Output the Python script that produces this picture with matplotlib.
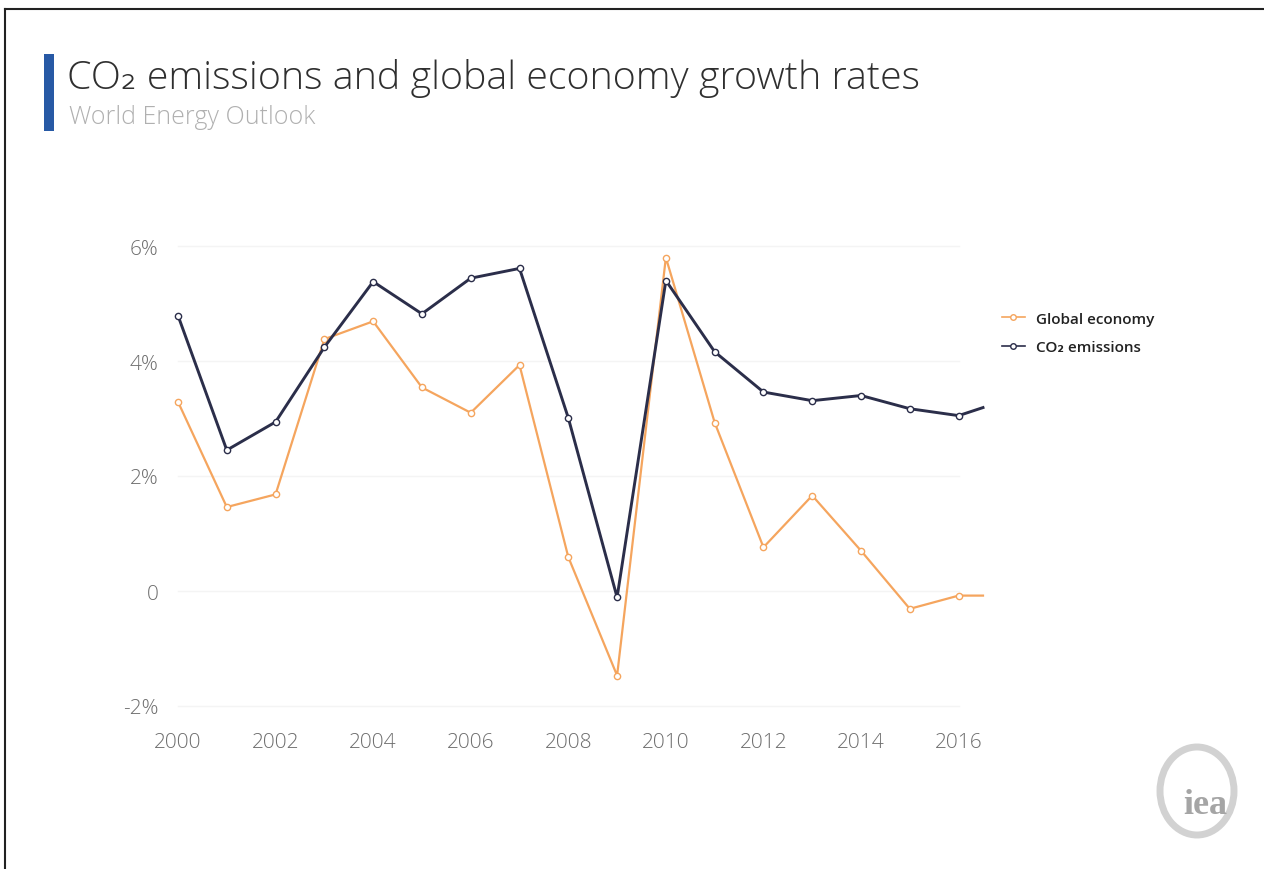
import matplotlib
matplotlib.use("Agg")
import matplotlib.pyplot as plt
from matplotlib.patches import Ellipse, Rectangle
from matplotlib.lines import Line2D

# Annual growth rates (%), with the trailing half-year segment shown at the edge
years = [2000, 2001, 2002, 2003, 2004, 2005, 2006, 2007, 2008,
         2009, 2010, 2011, 2012, 2013, 2014, 2015, 2016, 2016.5]
global_economy = [3.29, 1.46, 1.68, 4.38, 4.69, 3.54, 3.10, 3.93, 0.59,
                  -1.47, 5.80, 2.93, 0.76, 1.66, 0.70, -0.31, -0.08, -0.08]
co2_emissions = [4.79, 2.45, 2.94, 4.24, 5.38, 4.82, 5.44, 5.61, 3.01,
                 -0.11, 5.40, 4.16, 3.46, 3.31, 3.40, 3.17, 3.05, 3.19]

x_ticks = [2000, 2002, 2004, 2006, 2008, 2010, 2012, 2014, 2016]
y_ticks = [-2, 0, 2, 4, 6]
y_tick_labels = ["-2%", "0", "2%", "4%", "6%"]

ORANGE = "#f5a55e"
NAVY = "#2b2e4a"
FONT = ["Open Sans", "DejaVu Sans"]

W, H = 1264, 870
fig = plt.figure(figsize=(W / 100, H / 100), dpi=100)
fig.patch.set_facecolor("white")

def fx(px):
    return px / W

def fy(py):
    return 1 - py / H

# Plot area: 2000 at x=178 px, 2016.5 at x=983 px; 6% at y=247 px, -2% at y=707 px
ax = fig.add_axes([fx(178), fy(707), fx(983) - fx(178), fy(247) - fy(707)])
ax.set_xlim(2000, 2016.5)
ax.set_ylim(-2, 6)
for s in ax.spines.values():
    s.set_visible(False)
ax.set_facecolor("none")

# faint horizontal grid spanning the labelled years
for yv in y_ticks:
    ax.plot([2000, 2016], [yv, yv], color="#f4f4f4", lw=1.0, zorder=0, clip_on=False)

n_marks = len(years) - 1
ax.plot(years, global_economy, color=ORANGE, lw=1.6, marker="o", ms=4.5,
        mfc="white", mec=ORANGE, mew=1.0, markevery=list(range(n_marks)),
        clip_on=False, zorder=3, label="Global economy")
ax.plot(years, co2_emissions, color=NAVY, lw=2.1, marker="o", ms=4.5,
        mfc="white", mec=NAVY, mew=1.0, markevery=list(range(n_marks)),
        clip_on=False, zorder=4, label="CO\u2082 emissions")

ax.set_xticks(x_ticks)
ax.set_xticklabels([str(t) for t in x_ticks])
ax.set_yticks(y_ticks)
ax.set_yticklabels(y_tick_labels)
ax.tick_params(axis="both", length=0, colors="#6e6e6e", labelsize=15)
ax.tick_params(axis="y", pad=14)
ax.tick_params(axis="x", pad=19)
for lab in ax.get_xticklabels() + ax.get_yticklabels():
    lab.set_family(FONT)
    lab.set_fontweight("light")

# legend
handles = [
    Line2D([], [], color=ORANGE, lw=1.2, marker="o", ms=4, mfc="white", mec=ORANGE),
    Line2D([], [], color=NAVY, lw=1.2, marker="o", ms=4, mfc="white", mec=NAVY),
]
leg = fig.legend(handles, ["Global economy", "CO\u2082 emissions"],
                 loc="upper left", bbox_to_anchor=(fx(994), fy(305)),
                 frameon=False, handlelength=1.5, handletextpad=0.75,
                 labelspacing=0.95, borderpad=0,
                 prop={"family": FONT, "weight": "semibold", "size": 11})
for t in leg.get_texts():
    t.set_color("#222222")

# title block
fig.add_artist(Rectangle((fx(44), fy(132)), fx(54) - fx(44), fy(55) - fy(132),
                         transform=fig.transFigure, color="#2759a5", lw=0))
fig.text(fx(67), fy(89), "CO\u2082 emissions and global economy growth rates",
         family=FONT, weight="light", size=28.4, color="#2f2f2f", va="baseline")
fig.text(fx(69), fy(124), "World Energy Outlook",
         family=FONT, weight="light", size=18, color="#b0b0b0", va="baseline")

# frame lines along the top and left edges
fig.add_artist(Line2D([fx(5), 1], [fy(10), fy(10)], transform=fig.transFigure,
                      color="#222222", lw=1.5))
fig.add_artist(Line2D([fx(5), fx(5)], [fy(10), 0], transform=fig.transFigure,
                      color="#222222", lw=1.5))

# iea logo
fig.add_artist(Ellipse((fx(1197), fy(792)), fx(74), 88 / H,
                       transform=fig.transFigure, fill=False,
                       edgecolor="#d2d2d2", lw=5))
fig.text(fx(1205), fy(806), "iea", family=["Liberation Serif", "DejaVu Serif"],
         size=26, weight="bold", color="#a5a5a5", ha="center", va="center")

fig.savefig("out.png", dpi=100, facecolor="white")
